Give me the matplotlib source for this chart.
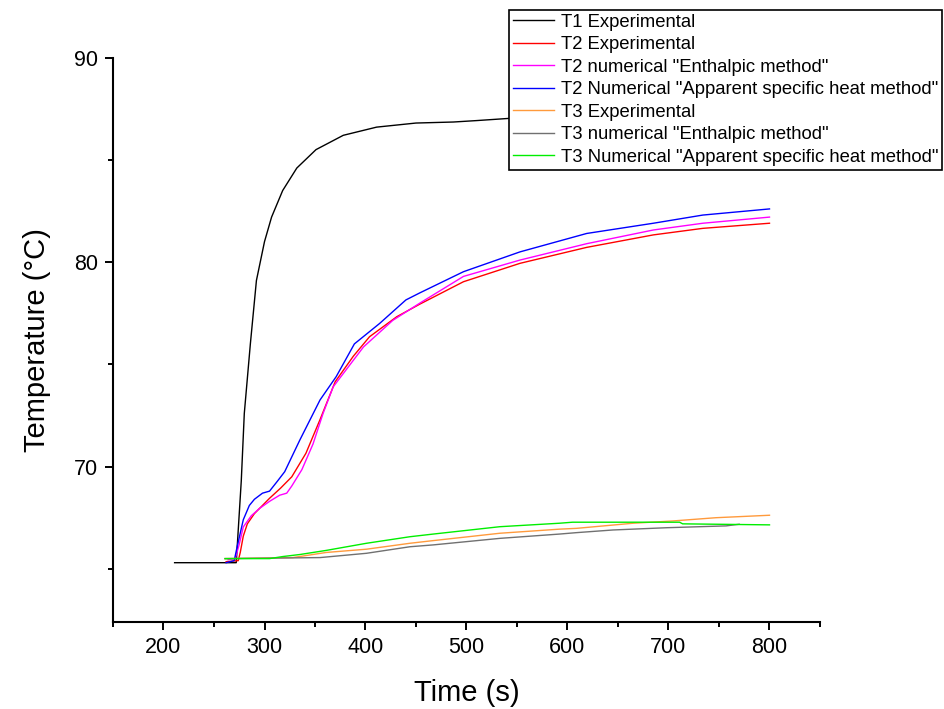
import matplotlib.pyplot as plt
from matplotlib.ticker import MultipleLocator

plt.rcParams['font.family'] = ['Liberation Sans', 'DejaVu Sans']

# ==========================
# DATA
# ==========================

t1_time = [211, 272, 277, 280, 286, 292, 300, 307, 318, 332, 351, 378, 411, 450,
           487, 510, 543, 600, 650, 700, 750, 800]
t1_exp = [65.3, 65.3, 69.3, 72.6, 76.0, 79.1, 81.0, 82.2, 83.5, 84.6, 85.5, 86.2,
          86.6, 86.8, 86.85, 86.92, 87.03, 87.15, 87.25, 87.35, 87.45, 87.55]

t2_exp_time = [262, 274, 276, 279, 283, 290, 295, 305, 316, 327, 341, 355, 370,
               388, 404, 431, 454, 497, 553, 619, 685, 734, 800]
t2_exp = [65.35, 65.4, 65.8, 66.6, 67.2, 67.7, 67.95, 68.45, 68.95, 69.5, 70.65,
          72.3, 74.15, 75.4, 76.35, 77.33, 77.95, 79.04, 79.94, 80.72, 81.33,
          81.65, 81.9]

t2_enth_time = [264, 271, 275, 279, 287, 295, 305, 315, 322, 327, 337, 348, 358,
                368, 378, 398, 427, 454, 497, 553, 619, 685, 734, 800]
t2_enth = [65.45, 65.5, 66.2, 67.05, 67.6, 67.95, 68.3, 68.6, 68.7, 69.05, 69.85,
           71.1, 72.6, 73.9, 74.55, 75.85, 77.15, 78.0, 79.3, 80.1, 80.9, 81.57,
           81.9, 82.2]

t2_app_time = [262, 270, 273, 279, 285, 290, 298, 305, 313, 320, 335, 355, 371,
               389, 414, 440, 454, 497, 553, 619, 685, 734, 800]
t2_app = [65.3, 65.4, 66.1, 67.4, 68.1, 68.4, 68.7, 68.8, 69.3, 69.75, 71.3, 73.26,
          74.4, 76.0, 77.0, 78.15, 78.5, 79.53, 80.5, 81.4, 81.9, 82.3, 82.6]

t3_exp_time = [261, 328, 361, 401, 444, 467, 533, 592, 609, 665, 704, 747, 800]
t3_exp = [65.5, 65.55, 65.8, 65.96, 66.25, 66.38, 66.74, 66.94, 66.98, 67.23,
          67.34, 67.5, 67.62]

t3_enth_time = [261, 355, 401, 444, 467, 533, 592, 609, 645, 698, 757, 770]
t3_enth = [65.5, 65.55, 65.76, 66.08, 66.17, 66.49, 66.7, 66.77, 66.9, 67.01,
           67.1, 67.18]

t3_app_time = [261, 305, 318, 335, 361, 401, 444, 467, 533, 592, 605, 650, 711,
               714, 800]
t3_app = [65.5, 65.5, 65.6, 65.7, 65.9, 66.25, 66.57, 66.7, 67.06, 67.23, 67.28,
          67.28, 67.28, 67.2, 67.15]

series = [
    (t1_time, t1_exp, '#000000', 'T1 Experimental'),
    (t2_exp_time, t2_exp, '#ff0000', 'T2 Experimental'),
    (t2_enth_time, t2_enth, '#ff00ff', 'T2 numerical "Enthalpic method"'),
    (t2_app_time, t2_app, '#0000ff', 'T2 Numerical "Apparent specific heat method"'),
    (t3_exp_time, t3_exp, '#ff9a3c', 'T3 Experimental'),
    (t3_enth_time, t3_enth, '#707070', 'T3 numerical "Enthalpic method"'),
    (t3_app_time, t3_app, '#00ee00', 'T3 Numerical "Apparent specific heat method"'),
]

# ==========================
# PLOT
# ==========================

fig = plt.figure(figsize=(9.44, 7.09), dpi=100)
ax = fig.add_axes([113 / 944, 1 - 622 / 709, 707 / 944, 564.4 / 709])

for x, y, c, lab in series:
    ax.plot(x, y, color=c, lw=1.0, label=lab)

ax.set_xlim(150, 850)
ax.set_ylim(62.4, 90)
ax.xaxis.set_major_locator(MultipleLocator(100))
ax.xaxis.set_minor_locator(MultipleLocator(50))
ax.yaxis.set_major_locator(MultipleLocator(10))
ax.yaxis.set_minor_locator(MultipleLocator(5))

for side in ['top', 'right']:
    ax.spines[side].set_visible(False)
for side in ['left', 'bottom']:
    ax.spines[side].set_linewidth(1.5)

ax.tick_params(which='major', length=6, width=1.4, labelsize=15.5, pad=5)
ax.tick_params(which='minor', length=3.5, width=1.4)

ax.set_xlabel('Time (s)', fontsize=21, labelpad=15)
ax.set_ylabel('Temperature (\u00b0C)', fontsize=21, labelpad=16)

leg = ax.legend(loc='upper left', bbox_to_anchor=(509 / 944, 1 - 10 / 709),
                bbox_transform=fig.transFigure, fontsize=13.3, frameon=True,
                fancybox=False, framealpha=1, edgecolor='black',
                borderpad=0.2, labelspacing=0.3, handlelength=2.25,
                handletextpad=0.38, borderaxespad=0)
leg.get_frame().set_linewidth(1.2)

fig.savefig('out.png', dpi=100)
